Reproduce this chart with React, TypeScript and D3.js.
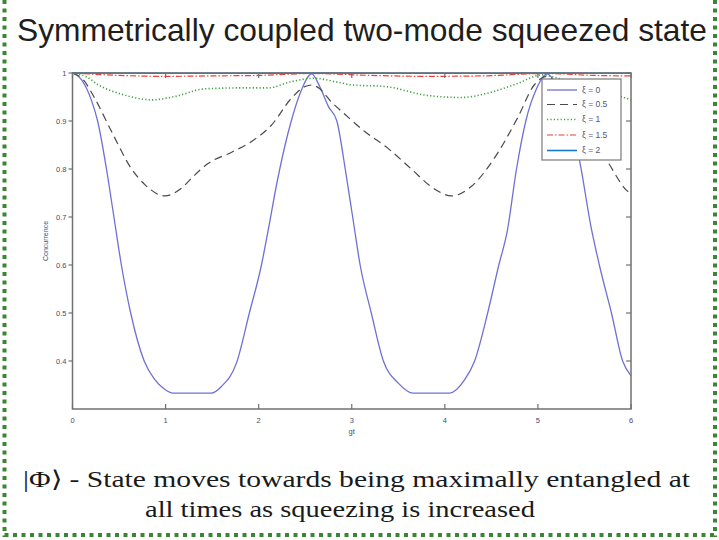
import React from 'react';
import * as d3 from 'd3';

// Axis ticks
const gtTicks = [0, 1, 2, 3, 4, 5, 6];
const concTicks = [0.4, 0.5, 0.6, 0.7, 0.8, 0.9, 1];
const concTickLabels = ['0.4', '0.5', '0.6', '0.7', '0.8', '0.9', '1'];

// Series labels
const seriesLabels = ['ξ = 0', 'ξ = 0.5', 'ξ = 1', 'ξ = 1.5', 'ξ = 2'];

// ξ = 0
const xi0Gt = [0, 0.1, 0.2, 0.27, 0.365, 0.445, 0.525, 0.625, 0.77, 0.88, 0.99, 1.08, 1.2, 1.35, 1.49, 1.6, 1.76, 1.9, 2.03, 2.1, 2.2, 2.35, 2.45, 2.57, 2.66, 2.75, 2.84, 2.93, 3.01, 3.09, 3.21, 3.34, 3.5, 3.66, 3.8, 3.92, 4.05, 4.21, 4.32, 4.46, 4.58, 4.67, 4.77, 4.87, 4.98, 5.1, 5.2, 5.3, 5.45, 5.57, 5.66, 5.79, 5.91, 6.0];
const xi0C = [1, 0.985, 0.945, 0.9, 0.8, 0.7, 0.6, 0.5, 0.4, 0.362, 0.341, 0.333, 0.333, 0.333, 0.333, 0.347, 0.395, 0.5, 0.6, 0.67, 0.775, 0.9, 0.96, 0.998, 0.97, 0.93, 0.9, 0.8, 0.7, 0.6, 0.5, 0.4, 0.354, 0.333, 0.333, 0.333, 0.333, 0.36, 0.4, 0.5, 0.6, 0.67, 0.8, 0.9, 0.965, 0.998, 0.975, 0.93, 0.815, 0.68, 0.6, 0.5, 0.4, 0.369];

// ξ = 0.5
const xi05Gt = [0, 0.12, 0.24, 0.42, 0.635, 0.78, 0.99, 1.17, 1.3, 1.46, 1.71, 1.92, 2.14, 2.35, 2.5, 2.57, 2.65, 2.78, 2.92, 3.14, 3.39, 3.64, 3.855, 4.07, 4.28, 4.53, 4.78, 4.96, 5.1, 5.3, 5.5, 5.75, 5.95, 6.0];
const xi05C = [1, 0.985, 0.947, 0.878, 0.8, 0.767, 0.744, 0.76, 0.785, 0.812, 0.835, 0.857, 0.892, 0.947, 0.972, 0.975, 0.968, 0.94, 0.915, 0.878, 0.843, 0.8, 0.763, 0.744, 0.763, 0.822, 0.906, 0.975, 0.993, 0.95, 0.89, 0.815, 0.756, 0.748];

// ξ = 1
const xi1Gt = [0, 0.15, 0.28, 0.56, 0.85, 1.1, 1.42, 1.82, 2.1, 2.35, 2.6, 2.82, 3.01, 3.35, 3.82, 4.18, 4.46, 4.78, 5.04, 5.2, 5.5, 5.89, 6.0];
const xi1C = [1, 0.992, 0.975, 0.954, 0.944, 0.951, 0.967, 0.969, 0.969, 0.982, 0.989, 0.982, 0.975, 0.972, 0.953, 0.949, 0.958, 0.978, 0.996, 0.99, 0.97, 0.951, 0.944];

// ξ = 1.5
const xi15Gt = [0, 0.5, 1.0, 1.5, 2.0, 2.57, 3.2, 3.8, 4.4, 5.1, 5.6, 6.0];
const xi15C = [1, 0.995, 0.993, 0.994, 0.995, 0.999, 0.995, 0.993, 0.994, 0.999, 0.995, 0.994];

// ξ = 2
const xi2Gt = [0, 1.0, 2.0, 2.57, 3.5, 4.5, 5.1, 6.0];
const xi2C = [1, 0.9995, 0.9995, 1, 0.9995, 0.9995, 1, 0.9995];

const W = 719;
const H = 540;
const plot = { left: 72.5, right: 631, top: 73, bottom: 409 };

const x = d3.scaleLinear().domain([0, 6]).range([plot.left, plot.right]);
const y = d3.scaleLinear().domain([0.3, 1]).range([plot.bottom, plot.top]);

const lineGen = d3
  .line<[number, number]>()
  .x((d) => x(d[0]))
  .y((d) => y(d[1]))
  .curve(d3.curveMonotoneX);

const zip = (a: number[], b: number[]): [number, number][] => a.map((v, i) => [v, b[i]]);

const series = [
  { label: seriesLabels[0], data: zip(xi0Gt, xi0C), color: '#6f70d6', width: 1.3, dash: undefined as string | undefined },
  { label: seriesLabels[1], data: zip(xi05Gt, xi05C), color: '#4a4a4a', width: 1.2, dash: '8,5' },
  { label: seriesLabels[2], data: zip(xi1Gt, xi1C), color: '#3f9f3f', width: 1.6, dash: '1.2,2.2' },
  { label: seriesLabels[3], data: zip(xi15Gt, xi15C), color: '#e8403a', width: 1.2, dash: '6,2,1.5,2' },
  { label: seriesLabels[4], data: zip(xi2Gt, xi2C), color: '#1878cc', width: 1.6, dash: undefined },
];

const legendRows = [90, 104.5, 119.5, 135, 150.5];

export default function App() {
  const axisColor = '#707070';
  const tickText = '#4a4a66';
  const border = '#3a8636';
  return (
    <svg width={W} height={H} style={{ position: 'absolute', left: 0, top: 0, background: '#fff' }}>
      <rect x={0} y={0} width={W} height={H} fill="#fff" />

      {/* dotted frame */}
      <g stroke={border} strokeWidth={4} strokeDasharray="4,4.5" fill="none">
        <line x1={4.5} y1={0} x2={4.5} y2={537} />
        <line x1={715} y1={0} x2={715} y2={537} />
        <line x1={4.5} y1={535} x2={717} y2={535} />
      </g>

      <text
        x={17}
        y={41}
        fontFamily="Liberation Sans"
        fontSize={32}
        fill="#1e1e1e"
        textLength={690}
        lengthAdjust="spacingAndGlyphs"
      >
        Symmetrically coupled two-mode squeezed state
      </text>

      {/* series */}
      <g fill="none">
        {series.map((s, i) => (
          <path
            key={i}
            d={lineGen(s.data) || ''}
            stroke={s.color}
            strokeWidth={s.width}
            strokeDasharray={s.dash}
          />
        ))}
      </g>

      {/* axes box */}
      <rect
        x={plot.left}
        y={plot.top}
        width={plot.right - plot.left}
        height={plot.bottom - plot.top}
        fill="none"
        stroke={axisColor}
        strokeWidth={1.5}
      />
      {gtTicks.map((t) => (
        <g key={'gx' + t}>
          <line x1={x(t)} x2={x(t)} y1={plot.bottom} y2={plot.bottom - 5} stroke={axisColor} strokeWidth={1.2} />
          <line x1={x(t)} x2={x(t)} y1={plot.top} y2={plot.top + 5} stroke={axisColor} strokeWidth={1.2} />
          <text
            x={x(t)}
            y={plot.bottom + 14}
            textAnchor="middle"
            fontFamily="Liberation Sans"
            fontSize={7.5}
            fill={tickText}
          >
            {t}
          </text>
        </g>
      ))}
      {concTicks.map((t, i) => (
        <g key={'gy' + t}>
          <line x1={plot.left - 4} x2={plot.left} y1={y(t)} y2={y(t)} stroke={axisColor} strokeWidth={1.2} />
          <line x1={plot.right} x2={plot.right - 5} y1={y(t)} y2={y(t)} stroke={axisColor} strokeWidth={1.2} />
          <text
            x={plot.left - 6}
            y={y(t)}
            dy="0.35em"
            textAnchor="end"
            fontFamily="Liberation Sans"
            fontSize={7.5}
            fill={tickText}
          >
            {concTickLabels[i]}
          </text>
        </g>
      ))}
      <text
        x={x(3)}
        y={plot.bottom + 25}
        textAnchor="middle"
        fontFamily="Liberation Sans"
        fontSize={7.5}
        fill={tickText}
      >
        gt
      </text>
      <text
        transform={`translate(48, ${(plot.top + plot.bottom) / 2}) rotate(-90)`}
        textAnchor="middle"
        fontFamily="Liberation Sans"
        fontSize={7}
        fill={tickText}
      >
        Concurrence
      </text>

      {/* legend */}
      <g>
        <rect x={542} y={79} width={79} height={81} fill="#fff" stroke="#7a7a7a" strokeWidth={1.2} />
        {series.map((s, i) => (
          <g key={'lg' + i}>
            <line
              x1={547}
              x2={577}
              y1={legendRows[i]}
              y2={legendRows[i]}
              stroke={s.color}
              strokeWidth={s.width}
              strokeDasharray={s.dash}
            />
            <text
              x={582}
              y={legendRows[i]}
              dy="0.35em"
              fontFamily="Liberation Sans"
              fontSize={8.5}
              fill="#55557a"
            >
              {s.label}
            </text>
          </g>
        ))}
      </g>

      {/* caption */}
      <g fontFamily="Liberation Serif" fontSize={23} fill="#1a1a1a">
        <text x={23} y={487} textLength={667} lengthAdjust="spacingAndGlyphs">
          |Φ⟩ - State moves towards being maximally entangled at
        </text>
        <text x={145} y={517} textLength={390} lengthAdjust="spacingAndGlyphs">
          all times as squeezing is increased
        </text>
      </g>
    </svg>
  );
}
